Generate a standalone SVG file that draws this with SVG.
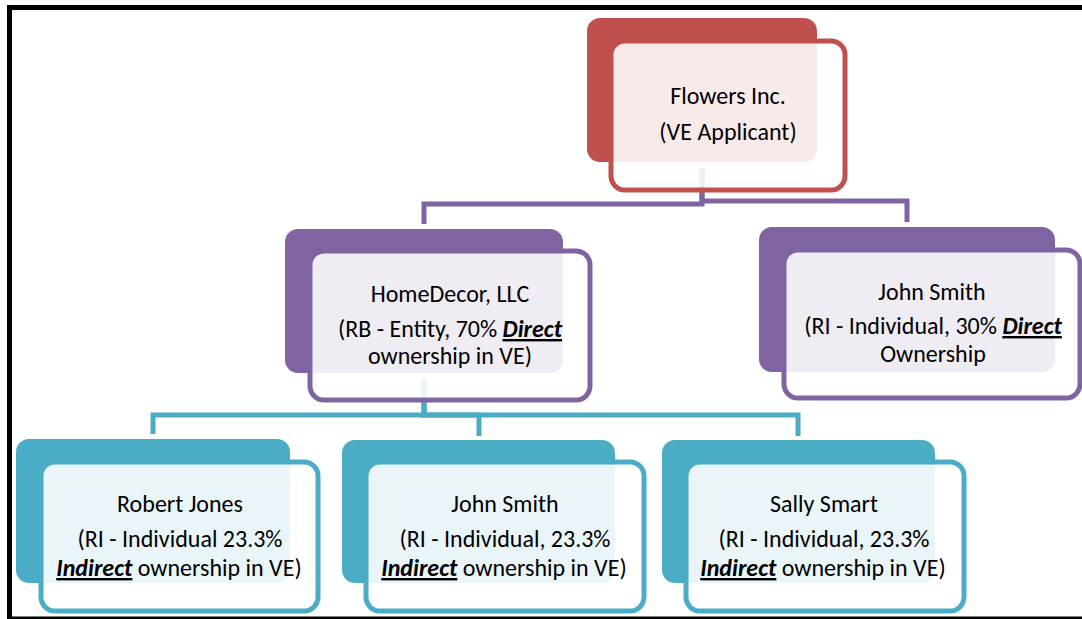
<svg xmlns="http://www.w3.org/2000/svg" width="1082" height="619" viewBox="0 0 1082 619">
<style>
  text { font-family: Carlito, Calibri, Lato, "Liberation Sans", sans-serif; font-size: 24px; fill: #000; text-anchor: middle; }
  .em { font-weight: bold; font-style: italic; text-decoration: underline; }
  .conn { fill: none; stroke-width: 5; stroke-linejoin: miter; }
  .red .back { fill: #C0504D; }
  .red .front { stroke: #C0504D; }
  .pur .back { fill: #8064A2; }
  .pur .front { stroke: #8064A2; }
  .teal .back { fill: #4BACC6; }
  .teal .front { stroke: #4BACC6; }
  .front { fill: #fff; fill-opacity: 0.88; stroke-width: 5; }
</style>
<rect x="0" y="0" width="1082" height="619" fill="#fff"/>
<rect x="9.5" y="7.5" width="1090" height="611.5" fill="none" stroke="#000" stroke-width="5"/>
<g id="connectors">
  <path class="conn" stroke="#8064A2" d="M702,168 V204 H424 V224"/>
  <path class="conn" stroke="#8064A2" d="M702,168 V201 H907 V222"/>
  <path class="conn" stroke="#4BACC6" d="M424,378 V415 H153 V434"/>
  <path class="conn" stroke="#4BACC6" d="M424,378 V415 H479 V436"/>
  <path class="conn" stroke="#4BACC6" d="M424,378 V415 H798 V436"/>
</g>
<g id="flowers" class="red">
  <rect class="back" x="587" y="18" width="230" height="144" rx="13"/>
  <rect class="front" x="611" y="41" width="234" height="149" rx="14"/>
  <text x="728" y="104">Flowers Inc.</text>
  <text x="728" y="140">(VE Applicant)</text>
</g>
<g id="homedecor" class="pur">
  <rect class="back" x="285" y="229" width="278" height="144" rx="13"/>
  <rect class="front" x="310" y="251" width="280" height="149" rx="14"/>
  <text x="450" y="302">HomeDecor, LLC</text>
  <text x="450" y="337">(RB - Entity, 70% <tspan class="em">Direct</tspan></text>
  <text x="450" y="364">ownership in VE)</text>
</g>
<g id="johnsmith-direct" class="pur">
  <rect class="back" x="759" y="227" width="296" height="145" rx="13"/>
  <rect class="front" x="784" y="250" width="296" height="148" rx="14"/>
  <text x="932" y="300">John Smith</text>
  <text x="933" y="334">(RI - Individual, 30% <tspan class="em">Direct</tspan></text>
  <text x="933" y="362">Ownership</text>
</g>
<g id="robertjones" class="teal">
  <rect class="back" x="16" y="439" width="274" height="144" rx="13"/>
  <rect class="front" x="41" y="462" width="277" height="149" rx="14"/>
  <text x="180" y="512">Robert Jones</text>
  <text x="180" y="547">(RI - Individual 23.3%</text>
  <text x="179" y="576"><tspan class="em">Indirect</tspan> ownership in VE)</text>
</g>
<g id="johnsmith-indirect" class="teal">
  <rect class="back" x="342" y="440" width="273" height="143" rx="13"/>
  <rect class="front" x="366" y="462" width="278" height="149" rx="14"/>
  <text x="505" y="512">John Smith</text>
  <text x="505" y="547">(RI - Individual, 23.3%</text>
  <text x="504" y="576"><tspan class="em">Indirect</tspan> ownership in VE)</text>
</g>
<g id="sallysmart" class="teal">
  <rect class="back" x="662" y="440" width="273" height="143" rx="13"/>
  <rect class="front" x="686" y="462" width="278" height="149" rx="14"/>
  <text x="824" y="512">Sally Smart</text>
  <text x="824" y="547">(RI - Individual, 23.3%</text>
  <text x="823" y="576"><tspan class="em">Indirect</tspan> ownership in VE)</text>
</g>
</svg>
